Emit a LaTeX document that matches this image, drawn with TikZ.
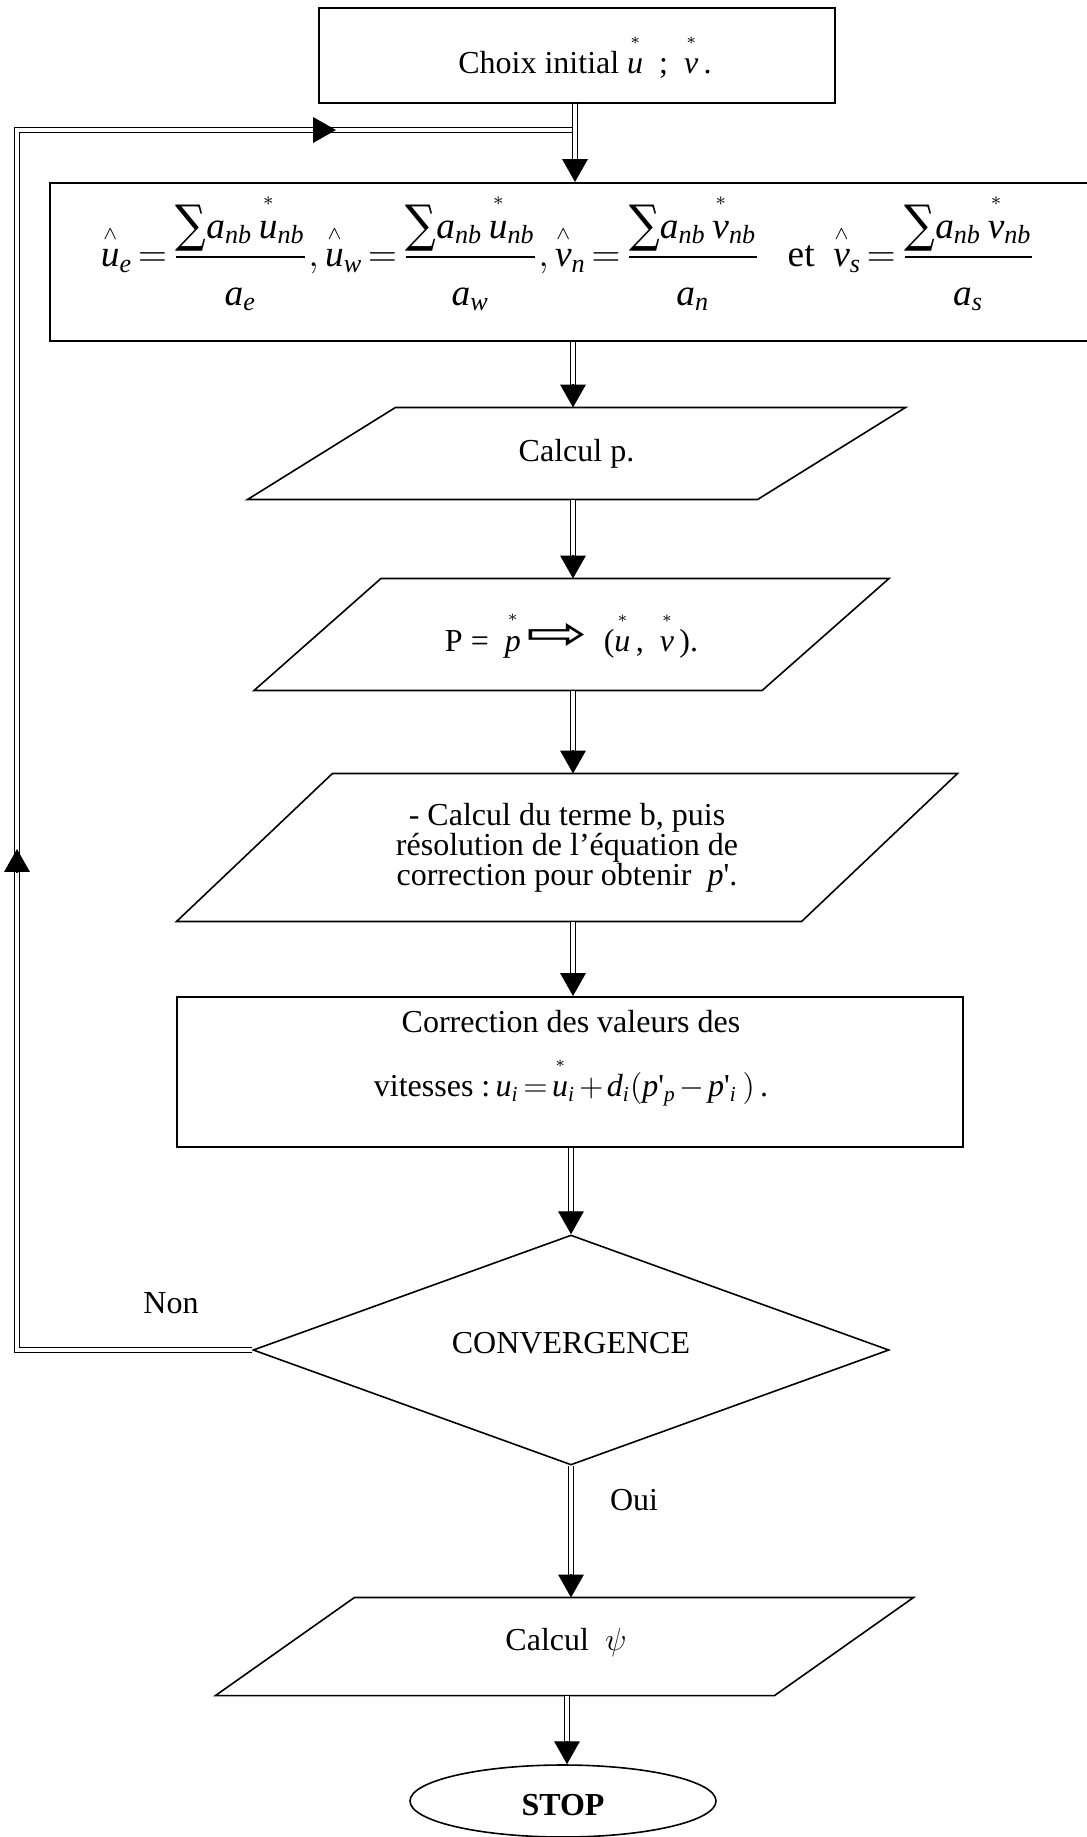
\documentclass[tikz,border=0pt]{standalone}
\usepackage{fontspec}
\usepackage{amsmath}
\usepackage{graphicx}
\setmainfont{Liberation Serif}
\newfontfamily\dejavu{DejaVu Sans}
\newfontfamily\sumfont{DejaVu Serif}
\usetikzlibrary{shapes.geometric,arrows.meta,calc}
\newdimen\pxu \pxu=0.375pt
\thickmuskip=2.5mu plus 1mu
\medmuskip=2mu plus 1mu
\newcommand\ti[1]{\textit{#1}}
\newcommand\hx[1]{\overset{\raisebox{1pt}{$\scriptscriptstyle\wedge$}}{\ti{#1}}}
\newcommand\sx[1]{\overset{\raisebox{3pt}{$\scriptscriptstyle *$}}{\ti{#1}}}
\newcommand\bigsum{\text{\raisebox{-0.1em}{\scalebox{0.85}[1]{\sumfont\fontsize{19}{19}\selectfont ∑}}}}
\newcommand\fr[2]{\dfrac{#1}{\rule{0pt}{1.15em}#2}}
\newcommand\qs{\textquotesingle}
\newcommand\paraoutline[2]{\draw[paraline] ($(#1.south west)+(-#2,0)$) -- ($(#1.south east)+(-#2,0)$) -- ($(#1.north east)+(#2,0)$) -- ($(#1.north west)+(#2,0)$) -- cycle;}
\newcommand\darrow[2]{%
  \draw[dbl] (#1) -- ($(#2)!8.3pt!(#1)$);
  \draw[tipst] ($(#2)!8.625pt!(#1)$) -- (#2);}
\begin{document}
\begin{tikzpicture}[x=0.375pt, y=-0.375pt,
  every node/.style={font=\fontsize{12}{14.5}\selectfont, inner sep=0pt},
  boxline/.style={draw, line width=0.75pt},
  paraline/.style={draw, line width=0.6pt, line join=miter},
  dbl/.style={draw, double, double distance=1.6pt, line width=0.5pt, line join=miter},
  tipst/.style={-{Triangle[length=8.6pt,width=9.6pt]}, line width=0.5pt},
]
\useasboundingbox (0,0) rectangle (1087,1837);
\fill[white] (0,0) rectangle (1087,1837);

\coordinate (ax0) at (575,0);
\coordinate (ax) at (573,0);
\coordinate (ax2) at (567,0);

% nodes
\node[boxline, minimum width=516*\pxu, minimum height=95*\pxu] (init) at (577,55.5) {};
\node (inittxt) at (585,56) {Choix initial $\sx{u}$\ \ ;\ \ $\sx{v}$\,.};

\node[boxline, minimum width=1045*\pxu, minimum height=158*\pxu] (form) at (572.5,262) {};
\node[font=\fontsize{14}{17}\selectfont] (formtxt) at (568,252)
  {$\hx{u}_{\ti{e}} = \fr{\bigsum\ti{a}_{\ti{nb}}\,\sx{u}_{\ti{nb}}}{\ti{a}_{\ti{e}}},\hx{u}_{\ti{w}} = \fr{\bigsum\ti{a}_{\ti{nb}}\,\sx{u}_{\ti{nb}}}{\ti{a}_{\ti{w}}},\hx{v}_{\ti{n}} = \fr{\bigsum\ti{a}_{\ti{nb}}\,\sx{v}_{\ti{nb}}}{\ti{a}_{\ti{n}}}$\enspace\ et\ \ $\hx{v}_{\ti{s}} = \fr{\bigsum\ti{a}_{\ti{nb}}\,\sx{v}_{\ti{nb}}}{\ti{a}_{\ti{s}}}$};

\node[minimum width=509*\pxu, minimum height=91*\pxu] (calcp) at (576.5,453.5) {Calcul p.};
\paraoutline{calcp}{74}

\node[minimum width=507*\pxu, minimum height=111*\pxu] (pbox) at (571.5,634.5)
  {P =\ \ $\sx{p}$\,\raisebox{0.5pt}{\dejavu\scalebox{2.3}[1.45]{⇨}}\ \ ($\sx{u}$\,,\ \ $\sx{v}$\,).};
\paraoutline{pbox}{63.5}

\node[minimum width=624*\pxu, minimum height=147*\pxu, align=center, font=\fontsize{12}{11.25}\selectfont] (bpara) at (567,847.5)
  {- Calcul du terme b, puis\\ résolution de l’équation de\\ correction pour obtenir \ $\ti{p}$\qs.};
\paraoutline{bpara}{78}

\node[boxline, minimum width=786*\pxu, minimum height=150*\pxu] (corr) at (570,1072) {};
\node[align=center] (corrtxt) at (571,1058)
  {Correction des valeurs des\\[8pt] vitesses :$\,\ti{u}_{\ti{i}} = \sx{u}_{\ti{i}} + \ti{d}_{\ti{i}}(\ti{p}\text{\qs}_{\ti{p}}-\ti{p}\text{\qs}_{\ti{i}}\,)$\,.};

\node[diamond, draw, line width=0.6pt, minimum width=636*\pxu, minimum height=230*\pxu, aspect=2.77] (conv) at (571,1350) {};
\node (convtxt) at (571,1343) {CONVERGENCE};

\node (non) at (171,1303) {Non};
\node (oui) at (634,1500) {Oui};

\node[minimum width=558*\pxu, minimum height=97*\pxu] (psi) at (564.5,1646.5) {};
\node (psitxt) at (566,1642) {Calcul \ $\psi$};
\paraoutline{psi}{69.5}

\node[ellipse, draw, line width=0.6pt, minimum width=306*\pxu, minimum height=72*\pxu] (stop) at (563,1801) {};
\node (stoptxt) at (563,1805) {\textbf{STOP}};

% loop back
\coordinate (lb) at (17,1350);
\coordinate (lt) at (17,130);
\draw[dbl] (conv.west) -- (lb) -- (lt) -- (lt -| ax0);
\coordinate (upA) at (17,849);
\draw[tipst] ($(upA)+(0,23)$) -- (upA);
\coordinate (rtA) at (336,130);
\draw[tipst] ($(rtA)+(-23,0)$) -- (rtA);

% arrows
\darrow{init.south -| ax0}{form.north -| ax0}
\darrow{form.south -| ax}{calcp.north -| ax}
\darrow{calcp.south -| ax}{pbox.north -| ax}
\darrow{pbox.south -| ax}{bpara.north -| ax}
\darrow{bpara.south -| ax}{corr.north -| ax}
\darrow{corr.south -| conv.north}{conv.north}
\darrow{conv.south}{psi.north -| conv.south}
\darrow{psi.south -| ax2}{stop.north -| ax2}
\end{tikzpicture}
\end{document}
